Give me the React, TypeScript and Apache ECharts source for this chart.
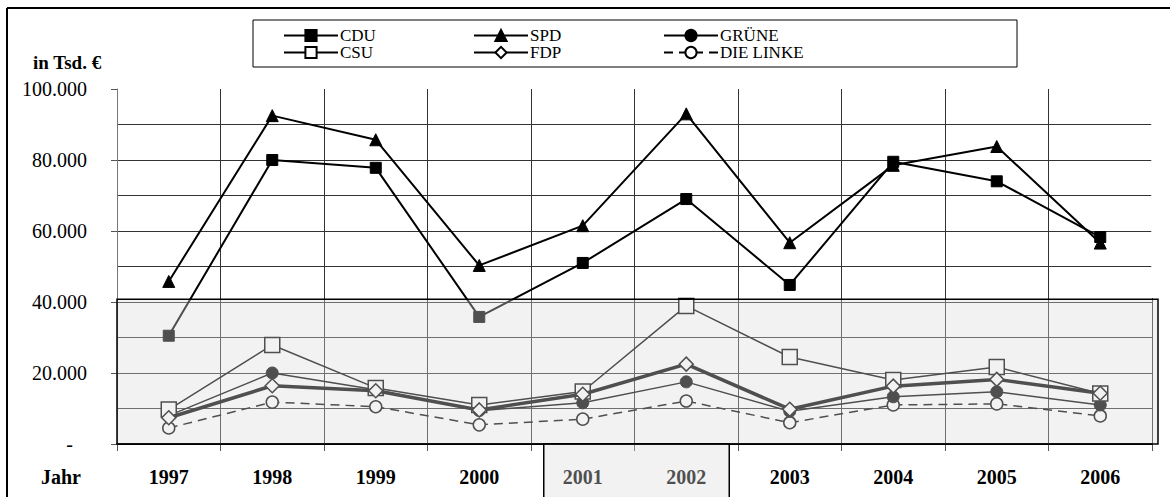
import React, { useEffect, useRef } from "react";
import * as echarts from "echarts";

const years = ["1997", "1998", "1999", "2000", "2001", "2002", "2003", "2004", "2005", "2006"];
const cdu = [30500, 80000, 77800, 35800, 51000, 69000, 44800, 79500, 74000, 58300];
const spd = [45800, 92500, 85700, 50300, 61500, 93000, 56700, 78500, 83800, 56600];
const gruene = [8000, 20000, 15300, 9400, 11600, 17500, 9200, 13300, 14700, 11000];
const csu = [9700, 27900, 15800, 11000, 14800, 38900, 24500, 18000, 21700, 14200];
const fdp = [7400, 16400, 15000, 9600, 14000, 22500, 9800, 16300, 18200, 14300];
const linke = [4500, 11800, 10500, 5400, 7000, 12100, 6000, 11000, 11300, 7900];
const highlightYears = ["2001", "2002"];
const shadedTop = 40800;
const yMax = 100000;
const yStep = 20000;

const FONT = "Liberation Serif";

function fmt(v: number): string {
  if (v === 0) return "{d|-}";
  const s = String(Math.round(v));
  return "{n|" + s.replace(/\B(?=(\d{3})+(?!\d))/g, ".") + "}";
}

export default function App() {
  const ref = useRef<HTMLDivElement>(null);
  useEffect(() => {
    const chart = echarts.init(ref.current!, null, { renderer: "svg" });
    const filled = { color: "#000", borderColor: "#000", borderWidth: 1 };
    const hollow = { color: "#fff", borderColor: "#000", borderWidth: 1.5 };
    const mk = (name: string, data: number[], symbol: string, size: number, item: any, line: any, z: number) => ({
      name,
      type: "line",
      data,
      symbol,
      symbolSize: size,
      showAllSymbol: true,
      itemStyle: item,
      lineStyle: { color: "#000", ...line },
      emphasis: { disabled: true },
      z,
    });
    const series = [
      mk("DIE LINKE", linke, "circle", 12, hollow, { width: 1.5, type: [9, 6] }, 2),
      mk("GRÜNE", gruene, "circle", 12, filled, { width: 1.5 }, 3),
      mk("CSU", csu, "rect", 15, hollow, { width: 1.5 }, 3),
      mk("FDP", fdp, "diamond", 14, hollow, { width: 3.5 }, 4),
      mk("CDU", cdu, "rect", 11, filled, { width: 2 }, 5),
      mk("SPD", spd, "triangle", 12, filled, { width: 2 }, 6),
    ];
    const legendPos: [string, number, number][] = [
      ["CDU", 283, 0],
      ["SPD", 473, 0],
      ["GRÜNE", 663, 0],
      ["CSU", 283, 1],
      ["FDP", 473, 1],
      ["DIE LINKE", 663, 1],
    ];
    const legends = legendPos.map(([n, x, r]) => ({
      data: [n],
      left: x,
      top: r === 0 ? 27 : 44,
      padding: 0,
      itemWidth: 54,
      itemHeight: 14,
      itemGap: 0,
      selectedMode: false,
      formatter: "{t|{name}}",
      textStyle: {
        fontFamily: FONT,
        fontSize: 17,
        lineHeight: 16,
        color: "#000",
        rich: { t: { fontFamily: FONT, fontSize: 17, lineHeight: 16, color: "#000", padding: [0, 0, 0, -3] } },
      },
      z: 10,
    }));
    chart.setOption({
      animation: false,
      backgroundColor: "#fff",
      textStyle: { fontFamily: FONT },
      grid: { left: 117, right: 18, top: 89, bottom: 53 },
      legend: legends,
      xAxis: {
        type: "category",
        data: years,
        boundaryGap: true,
        axisLine: { lineStyle: { color: "#000", width: 2 } },
        axisTick: { show: true, length: 7, lineStyle: { color: "#555" } },
        axisLabel: { fontFamily: FONT, fontSize: 20, fontWeight: "bold", color: "#000", margin: 23 },
        splitLine: { show: true, lineStyle: { color: "#333", width: 1 } },
      },
      yAxis: {
        type: "value",
        min: 0,
        max: yMax,
        interval: yStep,
        axisLine: { show: true, lineStyle: { color: "#777", width: 1 } },
        axisTick: { show: true, length: 6, lineStyle: { color: "#555" } },
        axisLabel: {
          margin: 30,
          formatter: fmt,
          rich: {
            n: { fontFamily: FONT, fontSize: 20, color: "#000" },
            d: { fontFamily: FONT, fontSize: 20, color: "#000", padding: [0, 14, 0, 0] },
          },
        },
        splitLine: { show: true, showMaxLine: false, lineStyle: { color: "#333", width: 1 } },
        minorTick: { show: false, splitNumber: 2 },
        minorSplitLine: { show: true, lineStyle: { color: "#333", width: 1 } },
      },
      series,
    });

    const gx0 = chart.convertToPixel({ xAxisIndex: 0 }, years[0]) as number;
    const gx1 = chart.convertToPixel({ xAxisIndex: 0 }, years[years.length - 1]) as number;
    const band = (gx1 - gx0) / (years.length - 1);
    const plotLeft = gx0 - band / 2;
    const plotRight = gx1 + band / 2;
    const yTop = chart.convertToPixel({ yAxisIndex: 0 }, shadedTop) as number;
    const yZero = chart.convertToPixel({ yAxisIndex: 0 }, 0) as number;
    const yFull = chart.convertToPixel({ yAxisIndex: 0 }, yMax) as number;
    const h0 = chart.convertToPixel({ xAxisIndex: 0 }, highlightYears[0]) as number;
    const h1 = chart.convertToPixel({ xAxisIndex: 0 }, highlightYears[1]) as number;
    const overlayFill = "rgba(220,220,220,0.36)";

    chart.setOption({
      graphic: [
        {
          type: "rect",
          z: 1,
          shape: { x: 253, y: 20, width: 764, height: 47 },
          style: { fill: "#fff", stroke: "#000", lineWidth: 1 },
        },
        {
          type: "line",
          z: 99,
          shape: { x1: plotRight + 0.5, y1: yFull - 2, x2: plotRight + 0.5, y2: yTop - 1 },
          style: { stroke: "#fff", lineWidth: 2.5 },
        },
        {
          type: "rect",
          z: 100,
          shape: { x: plotLeft, y: yTop, width: plotRight + 6 - plotLeft, height: yZero - yTop },
          style: { fill: overlayFill, stroke: "#000", lineWidth: 1.5 },
        },
        {
          type: "rect",
          z: 100,
          shape: { x: h0 - 39, y: yZero, width: h1 + 43 - (h0 - 39), height: 80 },
          style: { fill: overlayFill, stroke: "#000", lineWidth: 1.5 },
        },
        {
          type: "text",
          z: 50,
          x: 33,
          y: 62,
          style: { text: "in Tsd. €", font: `bold 19px ${FONT}`, fill: "#000", verticalAlign: "middle" },
        },
        {
          type: "text",
          z: 50,
          x: 61,
          y: 477,
          style: { text: "Jahr", font: `bold 20px ${FONT}`, fill: "#000", align: "center", verticalAlign: "middle" },
        },
        {
          type: "line",
          z: 101,
          shape: { x1: 7, y1: 8, x2: 1170, y2: 8 },
          style: { stroke: "#000", lineWidth: 2 },
        },
        {
          type: "line",
          z: 101,
          shape: { x1: 7, y1: 8, x2: 7, y2: 497 },
          style: { stroke: "#000", lineWidth: 2 },
        },
      ],
    });
    return () => chart.dispose();
  }, []);
  return <div ref={ref} style={{ position: "fixed", left: 0, top: 0, width: 1170, height: 497 }} />;
}
